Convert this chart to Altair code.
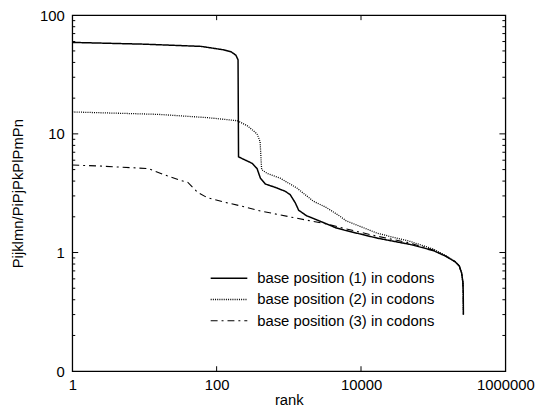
import altair as alt
import pandas as pd

series_names = [
    "base position (1) in codons",
    "base position (2) in codons",
    "base position (3) in codons",
]

rank_1 = [1, 10, 61, 127, 160, 185, 198, 201, 311, 363, 404, 473, 685, 890, 1042,
          1230, 1370, 1765, 3000, 4550, 6230, 17000, 48000, 100000, 150000, 200000,
          230000, 248000, 258000, 261000, 262144]
value_1 = [59, 57, 54.6, 51, 49, 46, 42, 6.4, 5.64, 5.1, 4.23, 3.78, 3.5, 3.28, 3.08,
           2.62, 2.27, 2.04, 1.79, 1.61, 1.53, 1.32, 1.17, 1.04, 0.93, 0.84,
           0.77, 0.67, 0.56, 0.45, 0.30]

rank_2 = [1, 15.5, 75, 194, 266, 363, 400, 420, 500, 760, 1290, 2180, 3330, 5000,
          6230, 17000, 48000, 100000, 150000, 200000, 230000, 248000, 258000, 261000, 262144]
value_2 = [15.3, 14.6, 13.7, 12.9, 11.7, 10.0, 8.6, 5.0, 4.65, 4.23, 3.5, 2.71, 2.39, 2.04,
           1.85, 1.45, 1.24, 1.07, 0.94, 0.84, 0.77, 0.67, 0.56, 0.45, 0.30]

rank_3 = [1, 2.34, 11.3, 19.2, 32.4, 40, 55, 75, 93, 141, 215, 404, 1160, 3330, 6230,
          17000, 48000, 100000, 150000, 200000, 230000, 248000, 258000, 261000, 262144]
value_3 = [5.46, 5.36, 5.1, 4.5, 4.03, 3.9, 3.2, 2.89, 2.80, 2.62, 2.47, 2.24, 1.97, 1.74, 1.58,
           1.37, 1.2, 1.05, 0.93, 0.84, 0.77, 0.67, 0.56, 0.45, 0.30]

x_labels = [1, 100, 10000, 1000000]
y_labels = [0.1, 1, 10, 100]
x_major_ticks = [100, 10000]
y_major_ticks = [1, 10]
y_minor_ticks = [0.2, 0.3, 0.4, 0.5, 0.6, 0.7, 0.8, 0.9,
                 2, 3, 4, 5, 6, 7, 8, 9,
                 20, 30, 40, 50, 60, 70, 80, 90]

rows = []
for name, rs, vs in zip(series_names, [rank_1, rank_2, rank_3], [value_1, value_2, value_3]):
    for r, v in zip(rs, vs):
        rows.append({"series": name, "rank": r, "value": v})
df = pd.DataFrame(rows)

W, H = 438, 360
FONT = "Liberation Sans"

xscale = alt.Scale(type="log", domain=[1, 1000000])
yscale = alt.Scale(type="log", domain=[0.1, 100])

x_axis = alt.Axis(values=x_labels, format="d", title="rank", labelFlush=False,
                  labelOverlap=False, labelPadding=7, titleY=34, titleBaseline="alphabetic")
y_axis = alt.Axis(values=y_labels, labelFlush=False, labelOverlap=False,
                  labelExpr="datum.value < 0.5 ? '0' : format(datum.value, 'd')",
                  title="Pijklmn/PiPjPkPlPmPn", labelPadding=8,
                  titleX=-50, titleY=H / 2, titleBaseline="alphabetic")

lines = alt.Chart(df).mark_line(color="black").encode(
    x=alt.X("rank:Q", scale=xscale, axis=x_axis),
    y=alt.Y("value:Q", scale=yscale, axis=y_axis),
    strokeDash=alt.StrokeDash(
        "series:N",
        scale=alt.Scale(domain=series_names, range=[[1, 0], [1, 1.2], [7, 4, 2, 4]]),
        legend=alt.Legend(orient="none", legendX=150, legendY=257.5, title=None,
                          symbolType="M-2.47,0H2.47", symbolSize=225,
                          symbolStrokeColor="black", symbolStrokeWidth=1.3,
                          labelFont=FONT, labelFontSize=15,
                          labelOffset=20, rowPadding=4.5, padding=0, labelColor="black",
                          labelLimit=0),
    ),
    strokeWidth=alt.StrokeWidth("series:N",
                                scale=alt.Scale(domain=series_names, range=[1.5, 1.1, 1.4]),
                                legend=None),
)

ydf_major = pd.DataFrame({"value": y_major_ticks})
ydf_minor = pd.DataFrame({"value": y_minor_ticks})
xdf_major = pd.DataFrame({"rank": x_major_ticks})

def ytick(d, x0, x1):
    return alt.Chart(d).mark_rule(color="black", strokeWidth=1).encode(
        y=alt.Y("value:Q", scale=yscale, axis=y_axis), x=alt.value(x0), x2=alt.value(x1))

def xtick(d, y0, y1):
    return alt.Chart(d).mark_rule(color="black", strokeWidth=1).encode(
        x=alt.X("rank:Q", scale=xscale, axis=x_axis), y=alt.value(y0), y2=alt.value(y1))

ticks = [
    ytick(ydf_major, 0, 6), ytick(ydf_minor, 0, 3),
    ytick(ydf_major, W - 6, W), ytick(ydf_minor, W - 3, W),
    xtick(xdf_major, H - 5, H), xtick(xdf_major, 0, 5),
]

chart = alt.layer(lines, *ticks).properties(
    width=W, height=H,
    autosize=alt.AutoSizeParams(type="none"),
    padding={"left": 65, "top": 5, "right": 33, "bottom": 40},
).configure_view(
    stroke="black", strokeWidth=1.3
).configure_axis(
    domain=False, ticks=False, grid=False,
    labelFont=FONT, labelFontSize=15, labelColor="black",
    titleFont=FONT, titleFontSize=15, titleFontWeight="normal", titleColor="black",
)

chart.save("out.html", embed_options={"renderer": "svg", "actions": False})
